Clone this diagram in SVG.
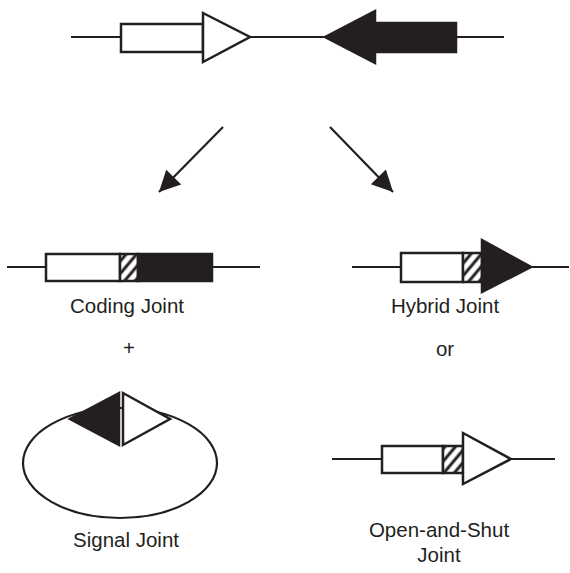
<svg xmlns="http://www.w3.org/2000/svg" width="570" height="573" viewBox="0 0 570 573">
<style>
.ln{stroke:#231f20;stroke-width:2.2;fill:none}
.bx{stroke:#231f20;stroke-width:2.5;fill:#fff}
.blk{stroke:#231f20;stroke-width:2.5;fill:#231f20}
.hat{stroke:#231f20;stroke-width:2.5;fill:url(#hatch)}
.lbl{font-family:"Liberation Sans",Arial,sans-serif;font-size:20.5px;fill:#231f20;text-anchor:middle}
</style>
<defs>
<pattern id="hatch" patternUnits="userSpaceOnUse" width="8" height="8" patternTransform="rotate(40)">
<rect width="8" height="8" fill="#fff"/>
<line x1="4" y1="0" x2="4" y2="8" stroke="#231f20" stroke-width="3"/>
</pattern>
<marker id="ahb" viewBox="0 0 10 10" refX="10" refY="5" markerWidth="24" markerHeight="21" markerUnits="userSpaceOnUse" orient="auto">
<path d="M0,0 L10,5 L0,10 z" fill="#231f20"/>
</marker>
</defs>

<g id="top-pair">
<line class="ln" x1="71" y1="37" x2="504" y2="37"/>
<rect class="bx" x="121" y="24" width="82" height="28"/>
<polygon class="bx" points="203,13 250,37 203,62"/>
<polygon class="blk" points="325,37 375,11 375,63"/>
<rect class="blk" x="375" y="23" width="81" height="29"/>
</g>

<g id="connectors">
<line class="ln" x1="223" y1="127" x2="159" y2="192" marker-end="url(#ahb)"/>
<line class="ln" x1="330" y1="127" x2="393" y2="192" marker-end="url(#ahb)"/>
</g>

<g id="coding-joint">
<line class="ln" x1="7" y1="267" x2="260" y2="267"/>
<rect class="bx" x="46" y="254" width="74" height="27"/>
<rect class="hat" x="120" y="254" width="18" height="27"/>
<rect class="blk" x="138" y="254" width="74" height="27"/>
<text class="lbl" x="127" y="313">Coding Joint</text>
</g>

<text class="lbl" x="129" y="355">+</text>

<g id="hybrid-joint">
<line class="ln" x1="352" y1="267" x2="569" y2="267"/>
<rect class="bx" x="401" y="253" width="62" height="29"/>
<rect class="hat" x="463" y="253" width="19" height="29"/>
<polygon class="blk" points="482,240 531,267 482,292"/>
<text class="lbl" x="445" y="313">Hybrid Joint</text>
</g>

<text class="lbl" x="445" y="356">or</text>

<g id="signal-joint">
<ellipse class="ln" cx="120" cy="463" rx="97" ry="55"/>
<polygon class="blk" points="119,393 70,419 119,445"/>
<polygon class="bx" points="123,393 170,419 123,445"/>
<text class="lbl" x="126" y="547">Signal Joint</text>
</g>

<g id="open-and-shut-joint">
<line class="ln" x1="332" y1="459" x2="555" y2="459"/>
<rect class="bx" x="382" y="446" width="61" height="27"/>
<rect class="hat" x="443" y="446" width="20" height="27"/>
<polygon class="bx" points="463,433 511,459 463,484"/>
<text class="lbl" x="439" y="537">Open-and-Shut</text>
<text class="lbl" x="439" y="562">Joint</text>
</g>
</svg>
